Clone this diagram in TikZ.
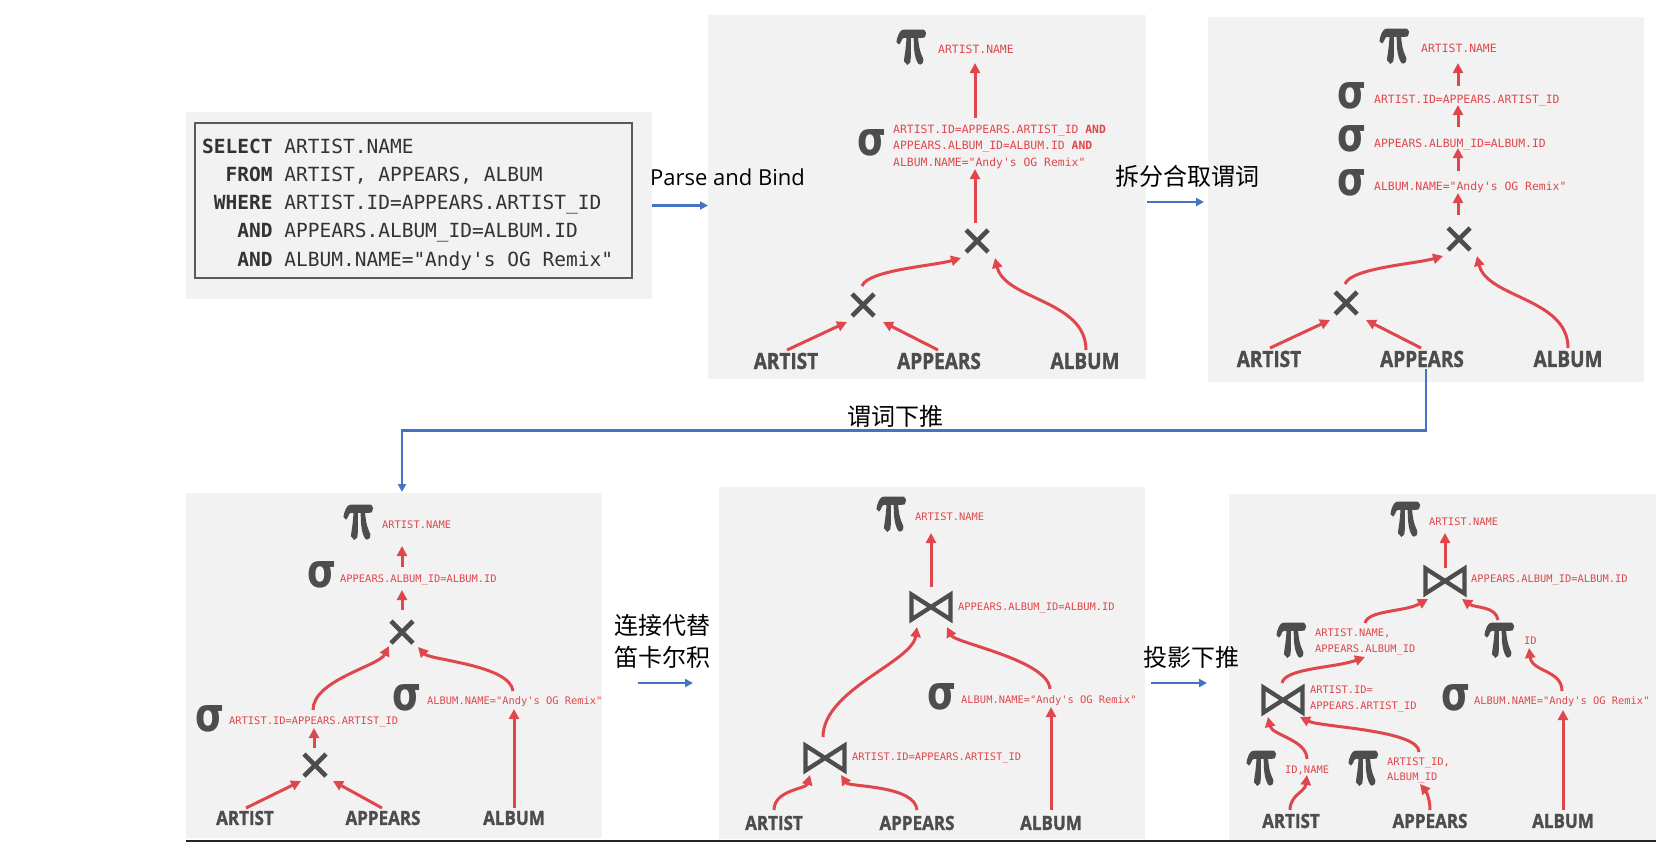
\documentclass[tikz,border=0pt]{standalone}
\usepackage{fontspec}
\usepackage{graphicx}
\setmonofont{DejaVu Sans Mono}
\newfontfamily\uifont{Open Sans}
\newfontfamily\lblfont{Open Sans}[BoldFeatures={FakeBold=1.5}]
\newfontfamily\cjkfont{Noto Sans CJK SC}
\newfontfamily\pifont{latinmodern-math.otf}[FakeBold=6]
\newfontfamily\grksans{DejaVu Sans}
\usetikzlibrary{arrows.meta,calc}
\definecolor{panelbg}{HTML}{F2F2F2}
\definecolor{opgray}{HTML}{4D4D4D}
\definecolor{redc}{HTML}{E0474C}
\definecolor{bluec}{HTML}{4472C4}
\definecolor{sqltext}{HTML}{333333}
\definecolor{sqlframe}{HTML}{5A5A5A}
\newcommand{\PiS}{\resizebox{30pt}{30pt}{\pifont π}}
\newcommand{\SigS}{\resizebox{29pt}{26pt}{\grksans\bfseries σ}}
\newcommand{\TL}[1]{\scalebox{1}[1.18]{#1}}
\newcommand{\BL}[1]{\scalebox{1}[1.15]{#1}}
\begin{document}
\begin{tikzpicture}[x=1pt,y=-1pt,
  panel/.style={fill=panelbg, inner sep=0, outer sep=0, anchor=north west},
  op/.style={inner sep=0, text=opgray},
  xop/.style={minimum size=30pt, inner sep=0, path picture={
    \draw[opgray, line width=4.6pt]
      ([shift={(-11,-11)}]path picture bounding box.center) -- ([shift={(11,11)}]path picture bounding box.center)
      ([shift={(-11,11)}]path picture bounding box.center) -- ([shift={(11,-11)}]path picture bounding box.center);}},
  bowop/.style={minimum width=52pt, minimum height=42pt, inner sep=0, path picture={
    \draw[opgray, line width=4.3pt, line join=miter]
      ([shift={(-19.5,-12.5)}]path picture bounding box.center) -- ([shift={(19.5,12.5)}]path picture bounding box.center)
      -- ([shift={(19.5,-12.5)}]path picture bounding box.center) -- ([shift={(-19.5,12.5)}]path picture bounding box.center) -- cycle;}},
  tlbl/.style={inner sep=0, text=opgray, font=\lblfont\bfseries\fontsize{19}{19}\selectfont},
  blbl/.style={inner sep=0, text=opgray, font=\lblfont\bfseries\fontsize{17}{17}\selectfont},
  rt/.style={inner sep=0, anchor=base west, text=redc, font=\ttfamily\fontsize{11.4}{13}\selectfont},
  rb/.style={inner sep=0, anchor=base west, text=redc, font=\ttfamily\fontsize{10.4}{12}\selectfont},
  rarr/.style={draw=redc, line width=3pt, -{Triangle[length=10pt,width=10pt]}},
  barr/.style={draw=bluec, line width=2.5pt, -{Triangle[length=8pt,width=8pt]}},
  note/.style={inner sep=0, anchor=base west, text=black},
  sqlline/.style={inner sep=0, anchor=base west, text=sqltext, font=\ttfamily\fontsize{19.5}{24}\selectfont}
]
\useasboundingbox (0,0) rectangle (1660,860);

% ---------- panels ----------
\node[panel, minimum width=466pt, minimum height=187pt] (sqlbg) at (186,112) {};
\node[panel, draw=sqlframe, line width=2.5pt, minimum width=437pt, minimum height=155pt] (sqlbox) at (195,123) {};
\node[panel, minimum width=438pt, minimum height=364pt] (p1bg) at (708,15) {};
\node[panel, minimum width=436pt, minimum height=365pt] (p2bg) at (1208,17) {};
\node[panel, minimum width=416pt, minimum height=345pt] (p3bg) at (186,493) {};
\node[panel, minimum width=426pt, minimum height=352pt] (p4bg) at (719,487) {};
\node[panel, minimum width=427pt, minimum height=346pt] (p5bg) at (1229,494) {};
\draw[line width=2pt, black!85] ($(p3bg.south west)+(0,3)$) -- ($(p5bg.south east)+(0,1)$);

% ---------- SQL ----------
\node[sqlline] (sql1) at (202,153) {\textbf{SELECT} ARTIST.NAME};
\node[sqlline] (sql2) at (202,181.3) {~~\textbf{FROM} ARTIST, APPEARS, ALBUM};
\node[sqlline] (sql3) at (202,209.5) {~\textbf{WHERE} ARTIST.ID=APPEARS.ARTIST\_ID};
\node[sqlline] (sql4) at (202,237.8) {~~~\textbf{AND} APPEARS.ALBUM\_ID=ALBUM.ID};
\node[sqlline] (sql5) at (202,266) {~~~\textbf{AND} ALBUM.NAME="Andy's OG Remix"};

% ---------- step labels ----------
\node[note, font=\uifont\fontsize{22}{26}\selectfont] (t1) at (650,185) {Parse and Bind};
\node[note, font=\cjkfont\fontsize{24}{28}\selectfont] (t2) at (1115,185) {拆分合取谓词};
\node[note, font=\cjkfont\fontsize{24}{28}\selectfont] (t3) at (847,425) {谓词下推};
\node[note, font=\cjkfont\fontsize{24}{28}\selectfont] (t4a) at (614,634) {连接代替};
\node[note, font=\cjkfont\fontsize{24}{28}\selectfont] (t4b) at (614,666) {笛卡尔积};
\node[note, font=\cjkfont\fontsize{24}{28}\selectfont] (t5) at (1143,666) {投影下推};

% ---------- panel 1 ----------
\node[op] (pi1) at (913,47) {\PiS};
\node[rt] (lp1) at (938,53) {ARTIST.NAME};
\node[op] (sg1) at (872,143) {\SigS};
\node[rt] (ls1a) at (893,133) {ARTIST.ID=APPEARS.ARTIST\_ID \textbf{AND}};
\node[rt] (ls1b) at (893,149) {APPEARS.ALBUM\_ID=ALBUM.ID \textbf{AND}};
\node[rt] (ls1c) at (893,166) {ALBUM.NAME="Andy's OG Remix"};
\node[xop] (xt1) at (977,241) {};
\node[xop] (xb1) at (863,305) {};
\node[tlbl] (ar1) at (786,361) {\TL{ARTIST}};
\node[tlbl] (ap1) at (939,361) {\TL{APPEARS}};
\node[tlbl] (al1) at (1085,361) {\TL{ALBUM}};
\draw[rarr] ($(ar1)+(1,-11)$) -- ($(xb1)+(-16,17)$);
\draw[rarr] ($(ap1)+(-1,-11)$) -- ($(xb1)+(20,17)$);
\draw[rarr] ($(xb1)+(-1,-19)$) .. controls +(6,-16) and +(-28,8) .. ($(xt1)+(-16,17)$);
\draw[rarr] ($(al1)+(1,-11)$) .. controls +(0,-50) and +(10,42) .. ($(xt1)+(18,17)$);
\draw[rarr] ($(xt1)+(-2,-18)$) -- ($(ls1c.base west)+(82,3)$);
\draw[rarr] ($(ls1a.base west)+(82,-15)$) -- ($(lp1.base west)+(37,10)$);

% ---------- panel 2 ----------
\node[op] (pi2) at (1396,46) {\PiS};
\node[rt] (lp2) at (1421,52) {ARTIST.NAME};
\node[op] (sa2) at (1352,96) {\SigS};
\node[rt] (ls2a) at (1374,103) {ARTIST.ID=APPEARS.ARTIST\_ID};
\node[op] (sb2) at (1352,139) {\SigS};
\node[rt] (ls2b) at (1374,147) {APPEARS.ALBUM\_ID=ALBUM.ID};
\node[op] (sc2) at (1352,183) {\SigS};
\node[rt] (ls2c) at (1374,190) {ALBUM.NAME="Andy's OG Remix"};
\node[xop] (xt2) at (1459,239) {};
\node[xop] (xb2) at (1346,303) {};
\node[tlbl] (ar2) at (1269,359) {\TL{ARTIST}};
\node[tlbl] (ap2) at (1422,359) {\TL{APPEARS}};
\node[tlbl] (al2) at (1568,359) {\TL{ALBUM}};
\draw[rarr] ($(ar2)+(1,-11)$) -- ($(xb2)+(-16,17)$);
\draw[rarr] ($(ap2)+(-1,-11)$) -- ($(xb2)+(20,17)$);
\draw[rarr] ($(xb2)+(-1,-19)$) .. controls +(6,-16) and +(-28,8) .. ($(xt2)+(-16,17)$);
\draw[rarr] ($(al2)+(0,-11)$) .. controls +(0,-50) and +(10,42) .. ($(xt2)+(18,17)$);
\draw[rarr] ($(xt2)+(-1,-24)$) -- ($(ls2c.base west)+(84,3)$);
\draw[rarr] ($(ls2c.base west)+(84,-19)$) -- ($(ls2b.base west)+(84,1)$);
\draw[rarr] ($(ls2b.base west)+(84,-20)$) -- ($(ls2a.base west)+(84,2)$);
\draw[rarr] ($(ls2a.base west)+(84,-17)$) -- ($(lp2.base west)+(37,11)$);

% ---------- panel 3 ----------
\node[op] (pi3) at (360,522) {\PiS};
\node[rb] (lp3) at (382,528) {ARTIST.NAME};
\node[op] (sg3) at (322,575) {\SigS};
\node[rb] (ls3) at (340,582) {APPEARS.ALBUM\_ID=ALBUM.ID};
\node[xop] (xt3) at (402,632) {};
\node[op] (sL3) at (210,719) {\SigS};
\node[rb] (lsL3) at (229,724) {ARTIST.ID=APPEARS.ARTIST\_ID};
\node[op] (sR3) at (407,698) {\SigS};
\node[rb] (lsR3) at (427,704) {ALBUM.NAME="Andy's OG Remix"};
\node[xop] (xb3) at (315,765) {};
\node[blbl] (ar3) at (245,818) {\BL{ARTIST}};
\node[blbl] (ap3) at (383,818) {\BL{APPEARS}};
\node[blbl] (al3) at (514,818) {\BL{ALBUM}};
\draw[rarr] ($(ls3.base west)+(62,-15)$) -- ($(lp3.base west)+(20,18)$);
\draw[rarr] ($(xt3)+(0,-22)$) -- ($(ls3.base west)+(62,8)$);
\draw[rarr] ($(xb3)+(-1,-17)$) -- ($(lsL3.base west)+(85,4)$);
\draw[rarr] ($(ar3)+(1,-10)$) -- ($(xb3)+(-14,16)$);
\draw[rarr] ($(ap3)+(-1,-10)$) -- ($(xb3)+(18,16)$);
\draw[rarr] ($(al3)+(0,-10)$) -- ($(lsR3.base west)+(87,5)$);
\draw[rarr] ($(lsL3.base west)+(84,-14)$) .. controls +(0,-30) and +(-10,20) .. ($(xt3)+(-13,14)$);
\draw[rarr] ($(lsR3.base west)+(86,-13)$) .. controls +(-3,-26) and +(12,13) .. ($(xt3)+(16,15)$);

% ---------- panel 4 ----------
\node[op] (pi4) at (893,514) {\PiS};
\node[rb] (lp4) at (915,520) {ARTIST.NAME};
\node[bowop] (bt4) at (931,607) {};
\node[rb] (lbt4) at (958,610) {APPEARS.ALBUM\_ID=ALBUM.ID};
\node[bowop] (bb4) at (825,758) {};
\node[rb] (lbb4) at (852,760) {ARTIST.ID=APPEARS.ARTIST\_ID};
\node[op] (sg4) at (942,697) {\SigS};
\node[rb] (ls4) at (961,703) {ALBUM.NAME="Andy's OG Remix"};
\node[blbl] (ar4) at (774,823) {\BL{ARTIST}};
\node[blbl] (ap4) at (917,823) {\BL{APPEARS}};
\node[blbl] (al4) at (1051,823) {\BL{ALBUM}};
\draw[rarr] ($(bt4)+(0,-20)$) -- ($(lp4.base west)+(16,13)$);
\draw[rarr] ($(al4)+(0,-13)$) -- ($(ls4.base west)+(90,4)$);
\draw[rarr] ($(ar4)+(0,-13)$) .. controls +(0,-20) and +(-4,14) .. ($(bb4)+(-15,17)$);
\draw[rarr] ($(ap4)+(0,-13)$) .. controls +(-2,-25) and +(8,12) .. ($(bb4)+(16,17)$);
\draw[rarr] ($(bb4)+(-2,-21)$) .. controls +(0,-47) and +(-5,35) .. ($(bt4)+(-14,20)$);
\draw[rarr] ($(ls4.base west)+(89,-14)$) .. controls +(-2,-29) and +(8,16) .. ($(bt4)+(16,20)$);

% ---------- panel 5 ----------
\node[op] (pi5) at (1407,519) {\PiS};
\node[rb] (lp5) at (1429,525) {ARTIST.NAME};
\node[bowop] (bt5) at (1445,581) {};
\node[rb] (lbt5) at (1471,582) {APPEARS.ALBUM\_ID=ALBUM.ID};
\node[op] (pL5) at (1293,640) {\PiS};
\node[rb] (lpL5a) at (1315,636) {ARTIST.NAME,};
\node[rb] (lpL5b) at (1315,652) {APPEARS.ALBUM\_ID};
\node[op] (pR5) at (1501,640) {\PiS};
\node[rb] (lpR5) at (1524,644) {ID};
\node[bowop] (bl5) at (1283,700) {};
\node[rb] (lbl5a) at (1310,693) {ARTIST.ID=};
\node[rb] (lbl5b) at (1310,709) {APPEARS.ARTIST\_ID};
\node[op] (sg5) at (1456,698) {\SigS};
\node[rb] (ls5) at (1474,704) {ALBUM.NAME="Andy's OG Remix"};
\node[op] (pA5) at (1263,768) {\PiS};
\node[rb] (lpA5) at (1285,773) {ID,NAME};
\node[op] (pB5) at (1365,768) {\PiS};
\node[rb] (lpB5a) at (1387,765) {ARTIST\_ID,};
\node[rb] (lpB5b) at (1387,780) {ALBUM\_ID};
\node[blbl] (ar5) at (1291,821) {\BL{ARTIST}};
\node[blbl] (ap5) at (1430,821) {\BL{APPEARS}};
\node[blbl] (al5) at (1563,821) {\BL{ALBUM}};
\draw[rarr] ($(bt5)+(0,-13)$) -- ($(lp5.base west)+(16,8)$);
\draw[rarr] ($(al5)+(0,-11)$) -- ($(ls5.base west)+(89,6)$);
\draw[rarr] ($(ar5)+(-1,-11)$) .. controls +(0,-15) and +(-2,17) .. ($(lpA5.base west)+(22,2)$);
\draw[rarr] ($(ap5)+(0,-11)$) .. controls +(0,-13) and +(5,6) .. ($(lpB5b.base west)+(33,4)$);
\draw[rarr] ($(lpA5.base west)+(22,-14)$) .. controls +(0,-19) and +(4,18) .. ($(bl5)+(-15,17)$);
\draw[rarr] ($(lpB5a.base west)+(32,-13)$) .. controls +(0,-22) and +(20,10) .. ($(bl5)+(17,17)$);
\draw[rarr] ($(bl5)+(-1,-17)$) .. controls +(3,-15) and +(-30,11) .. ($(lpL5b.base west)+(50,5)$);
\draw[rarr] ($(lpL5a.base west)+(50,-13)$) .. controls +(3,-13) and +(-23,13) .. ($(bt5)+(-17,18)$);
\draw[rarr] ($(ls5.base west)+(88,-13)$) .. controls +(0,-21) and +(3,24) .. ($(lpR5.base west)+(5,4)$);
\draw[rarr] ($(pR5)+(-3,-20)$) .. controls +(-2,-14) and +(13,9) .. ($(bt5)+(17,18)$);

% ---------- blue transitions ----------
\draw[barr] (sqlbg.east) -- (sqlbg.east -| p1bg.west);
\draw[barr] ($(p1bg.east)+(1,5)$) -- ($(p1bg.east -| p2bg.west)+(-4,5)$);
\draw[barr, shorten >=1pt] ($(ap2.south)+(4,2)$) -- ++(0,61) -| (xt3 |- p3bg.north);
\draw[barr] ($(p3bg.east)+(36,17.5)$) -- ($(p4bg.west)+(-26,20)$);
\draw[barr] ($(p4bg.east)+(6,20)$) -- ($(p5bg.west)+(-22,16)$);
\end{tikzpicture}
\end{document}
